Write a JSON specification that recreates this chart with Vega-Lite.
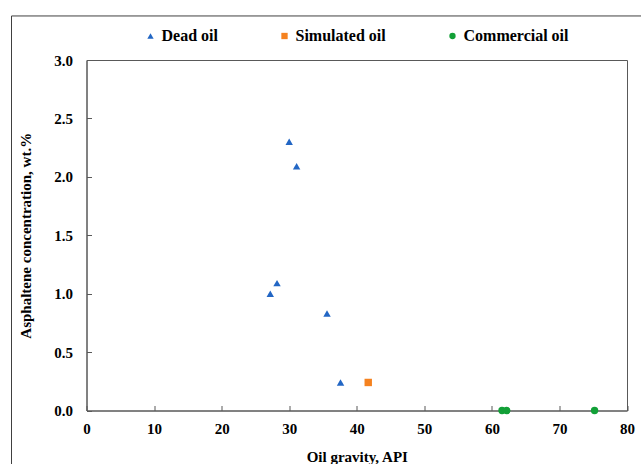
{
  "$schema": "https://vega.github.io/schema/vega-lite/v6.json",
  "width": 540.5,
  "height": 350.5,
  "autosize": "none",
  "padding": {"left": 86.5, "top": 60, "right": 14, "bottom": 53.5},
  "background": "white",
  "config": {
    "view": {"stroke": "#595959", "strokeWidth": 1},
    "font": "Liberation Serif",
    "axisX": {
      "grid": false, "tickSize": -5, "tickColor": "#595959", "domainColor": "#595959",
      "labelFont": "Liberation Serif", "labelFontWeight": "bold", "labelFontSize": 15, "labelColor": "black",
      "labelPadding": 16, "labelFlush": false,
      "titleFont": "Liberation Serif", "titleFontWeight": "bold",
      "titleFontSize": 15, "titleColor": "black", "titlePadding": 13
    },
    "axisY": {
      "grid": false, "tickSize": -5, "tickColor": "#595959", "domainColor": "#595959",
      "labelFont": "Liberation Serif", "labelFontWeight": "bold", "labelFontSize": 15, "labelColor": "black",
      "labelPadding": 19, "labelFlush": false,
      "titleFont": "Liberation Serif", "titleFontWeight": "bold",
      "titleFontSize": 15, "titleColor": "black", "titlePadding": 20
    },
    "legend": {
      "labelFont": "Liberation Serif",
      "labelFontSize": 16,
      "labelFontWeight": "bold",
      "labelColor": "black",
      "symbolSize": 40,
      "symbolStrokeWidth": 0,
      "columnPadding": 58,
      "labelOffset": 3,
      "direction": "horizontal"
    }
  },
  "layer": [
    {
      "data": {
        "values": [
          {"api": 30.0, "asph": 2.30, "series": "Dead oil"},
          {"api": 31.1, "asph": 2.09, "series": "Dead oil"},
          {"api": 28.2, "asph": 1.09, "series": "Dead oil"},
          {"api": 27.2, "asph": 1.00, "series": "Dead oil"},
          {"api": 35.6, "asph": 0.83, "series": "Dead oil"},
          {"api": 37.6, "asph": 0.24, "series": "Dead oil"},
          {"api": 41.7, "asph": 0.24, "series": "Simulated oil"},
          {"api": 61.5, "asph": 0.0, "series": "Commercial oil"},
          {"api": 62.2, "asph": 0.0, "series": "Commercial oil"},
          {"api": 75.2, "asph": 0.0, "series": "Commercial oil"}
        ]
      },
      "mark": {"type": "point", "filled": true, "opacity": 1, "size": 55, "clip": false},
      "encoding": {
        "x": {
          "field": "api", "type": "quantitative", "title": "Oil gravity, API",
          "scale": {"domain": [0, 80], "nice": false},
          "axis": {"values": [0, 10, 20, 30, 40, 50, 60, 70, 80]}
        },
        "y": {
          "field": "asph", "type": "quantitative", "title": "Asphaltene concentration, wt.%",
          "scale": {"domain": [0, 3], "nice": false},
          "axis": {"values": [0, 0.5, 1, 1.5, 2, 2.5, 3], "format": ".1f"}
        },
        "color": {
          "field": "series", "type": "nominal",
          "scale": {"domain": ["Dead oil", "Simulated oil", "Commercial oil"], "range": ["#2266C4", "#F5821F", "#12A037"]},
          "legend": {"title": null, "orient": "none", "legendX": 56, "legendY": -32}
        },
        "shape": {
          "field": "series", "type": "nominal",
          "scale": {"domain": ["Dead oil", "Simulated oil", "Commercial oil"], "range": ["triangle-up", "square", "circle"]},
          "legend": {"title": null, "orient": "none", "legendX": 56, "legendY": -32}
        }
      }
    },
    {
      "data": {"values": [{"fx0": -11.1, "fx1": 100, "fy0": 3.377, "fy1": -1}]},
      "mark": {"type": "rect", "fill": null, "stroke": "#404040", "strokeWidth": 1, "clip": false},
      "encoding": {
        "x": {"field": "fx0", "type": "quantitative", "title": "Oil gravity, API", "scale": {"domain": [0, 80], "nice": false}, "axis": {"values": [0, 10, 20, 30, 40, 50, 60, 70, 80]}},
        "x2": {"field": "fx1"},
        "y": {"field": "fy0", "type": "quantitative", "title": "Asphaltene concentration, wt.%", "scale": {"domain": [0, 3], "nice": false}, "axis": {"values": [0, 0.5, 1, 1.5, 2, 2.5, 3], "format": ".1f"}},
        "y2": {"field": "fy1"}
      }
    }
  ]
}
